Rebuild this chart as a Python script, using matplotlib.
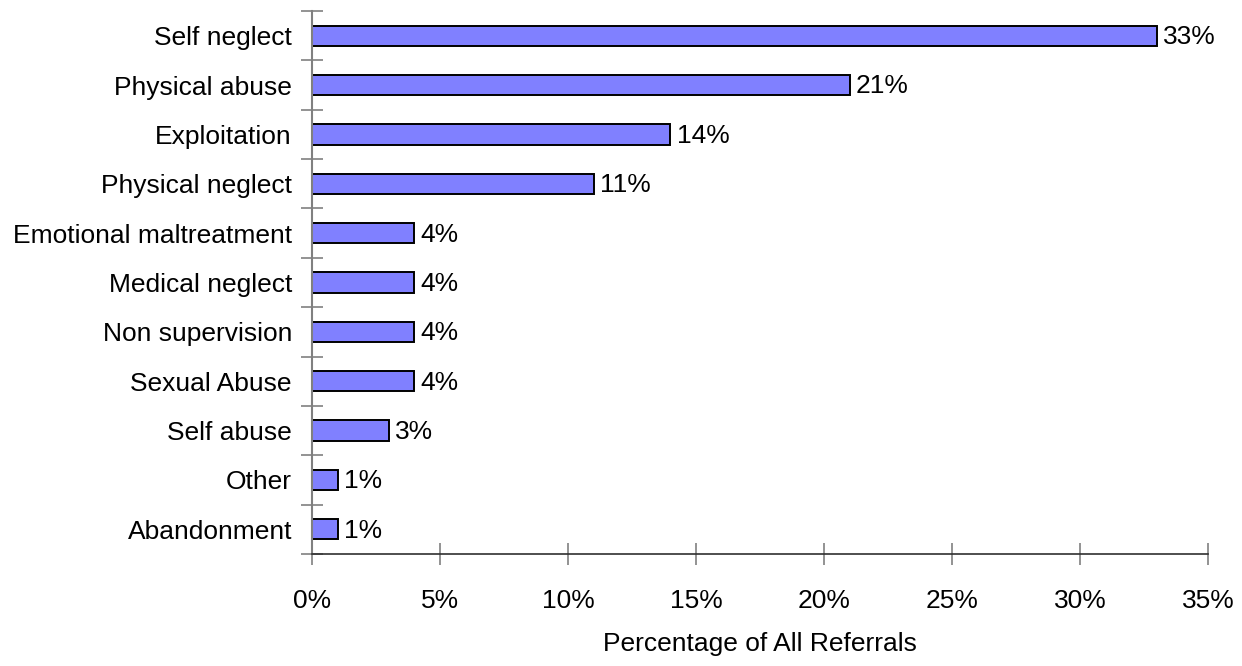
import matplotlib
matplotlib.use("Agg")
import matplotlib.pyplot as plt
import numpy as np

plt.rcParams['font.family'] = ['Liberation Sans', 'DejaVu Sans']

categories = ['Self neglect', 'Physical abuse', 'Exploitation', 'Physical neglect',
              'Emotional maltreatment', 'Medical neglect', 'Non supervision',
              'Sexual Abuse', 'Self abuse', 'Other', 'Abandonment']
percent = [33, 21, 14, 11, 4, 4, 4, 4, 3, 1, 1]
xticks = [0, 5, 10, 15, 20, 25, 30, 35]

fig = plt.figure(figsize=(12.42, 6.66), dpi=100)
ax = fig.add_axes([0.2512, 0.1682, 0.7214, 0.8153])

n = len(categories)
ypos = np.arange(n)[::-1]  # top bar first
ax.barh(ypos, percent, height=0.41, color='#8080FF', edgecolor='black', linewidth=1.4)

for y, v in zip(ypos, percent):
    ax.annotate(f'{v}%', (v, y), xytext=(4.5, -1), textcoords='offset points',
                va='center', ha='left', fontsize=19)

ax.set_xlim(0, 35)
ax.set_ylim(-0.5, n - 0.5)

ax.set_xticks(xticks)
ax.set_xticklabels([f'{t}%' for t in xticks], fontsize=19)
ax.tick_params(axis='x', direction='inout', length=16, width=1.2, color='#808080', pad=17)

# category labels at bar centres, tick marks at the boundaries
ax.set_yticks(ypos)
ax.set_yticklabels(categories, fontsize=19)
ax.tick_params(axis='y', which='major', length=0, pad=14.4)
ax.set_yticks(np.arange(n + 1) - 0.5, minor=True)
ax.tick_params(axis='y', which='minor', direction='inout', length=16, width=1.2, color='#808080')

ax.set_xlabel('Percentage of All Referrals', fontsize=19, labelpad=14)

ax.spines['top'].set_visible(False)
ax.spines['right'].set_visible(False)
ax.spines['left'].set_color('#808080')
ax.spines['left'].set_linewidth(1.5)
ax.spines['bottom'].set_color('#303030')
ax.spines['bottom'].set_linewidth(1.2)

fig.savefig('out.png', dpi=100)
